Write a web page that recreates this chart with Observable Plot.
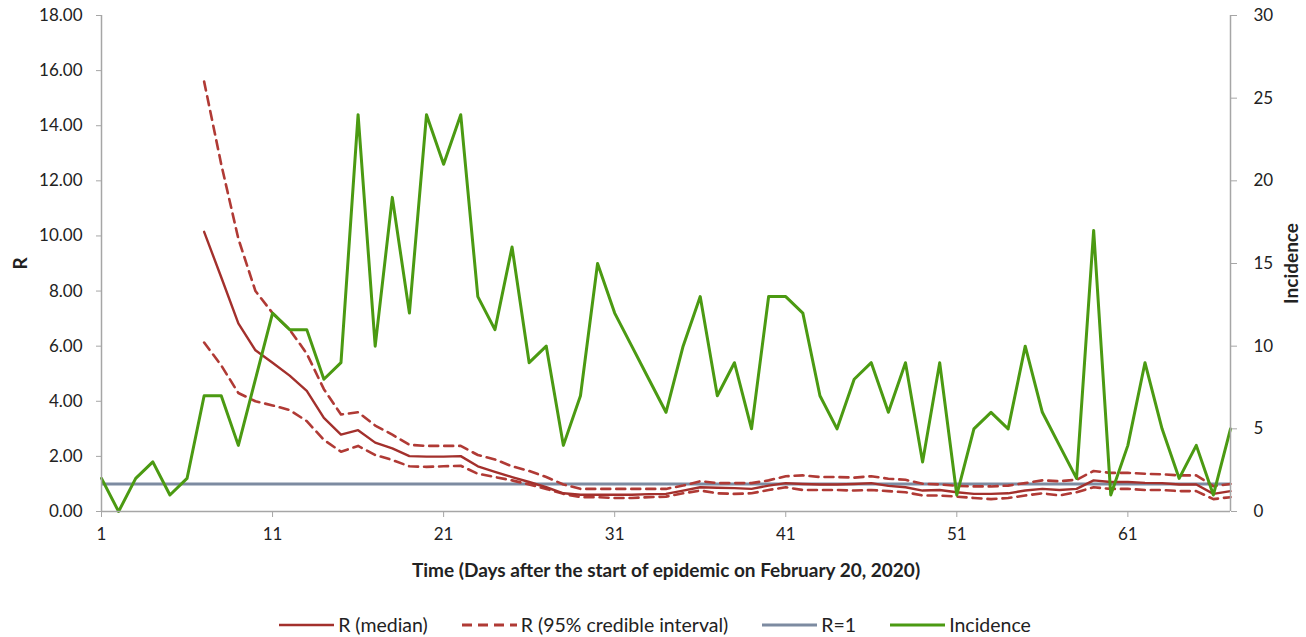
<!DOCTYPE html>
<html>
<head>
<meta charset="utf-8">
<script src="https://cdn.jsdelivr.net/npm/d3@7"></script>
<script src="https://cdn.jsdelivr.net/npm/@observablehq/plot@0.6"></script>
<style>
  html, body { margin: 0; padding: 0; background: #fff; }
  #chart { width: 1306px; height: 600px; }
  #legend { position: relative; display: flex; justify-content: center; align-items: center; gap: 34px;
            font-family: Lato, "Open Sans", sans-serif; font-size: 19.5px; color: #222;
            margin-top: 14px; line-height: 22px; left: 2px; }
  .item { display: flex; align-items: center; gap: 4px; }
</style>
</head>
<body>
<div id="chart"></div>
<div id="legend"></div>
<script>
// ---- data ----
const days = [1,2,3,4,5,6,7,8,9,10,11,12,13,14,15,16,17,18,19,20,21,22,23,24,25,26,27,28,29,30,31,32,33,34,35,36,37,38,39,40,41,42,43,44,45,46,47,48,49,50,51,52,53,54,55,56,57,58,59,60,61,62,63,64,65,66,67];
const incidence = [2,0,2,3,1,2,7,7,4,8,12,11,11,8,9,24,10,19,12,24,21,24,13,11,16,9,10,4,7,15,12,10,8,6,10,13,7,9,5,13,13,12,7,5,8,9,6,9,3,9,1,5,6,5,10,6,4,2,17,1,4,9,5,2,4,1,5];
const rDays = [7,8,9,10,11,12,13,14,15,16,17,18,19,20,21,22,23,24,25,26,27,28,29,30,31,32,33,34,35,36,37,38,39,40,41,42,43,44,45,46,47,48,49,50,51,52,53,54,55,56,57,58,59,60,61,62,63,64,65,66,67];
const rMedian = [10.15,8.5,6.83,5.85,5.4,4.93,4.38,3.40,2.79,2.95,2.50,2.29,2.01,1.99,1.99,2.01,1.64,1.44,1.25,1.07,0.88,0.66,0.61,0.61,0.61,0.61,0.63,0.64,0.76,0.88,0.86,0.85,0.82,0.94,1.03,1.00,0.98,0.98,1.00,1.03,0.93,0.88,0.76,0.78,0.70,0.64,0.64,0.66,0.76,0.82,0.78,0.82,1.13,1.07,1.07,1.04,1.03,0.98,0.98,0.64,0.74];
const rUpper = [15.6,12.6,9.9,8.0,7.2,6.6,5.73,4.44,3.52,3.6,3.12,2.79,2.42,2.38,2.38,2.38,2.05,1.89,1.64,1.47,1.25,0.98,0.82,0.82,0.82,0.82,0.82,0.82,0.94,1.10,1.03,1.03,1.03,1.13,1.28,1.31,1.25,1.25,1.23,1.28,1.19,1.15,1.01,0.98,0.93,0.91,0.91,0.94,1.03,1.13,1.10,1.15,1.47,1.40,1.40,1.37,1.35,1.31,1.31,0.92,1.00];
const rLower = [6.13,5.3,4.3,4.0,3.85,3.68,3.28,2.6,2.17,2.38,2.05,1.87,1.64,1.62,1.64,1.66,1.37,1.25,1.13,0.98,0.82,0.64,0.52,0.52,0.49,0.49,0.52,0.54,0.66,0.76,0.66,0.64,0.66,0.78,0.88,0.78,0.78,0.78,0.76,0.78,0.74,0.70,0.58,0.58,0.54,0.49,0.45,0.49,0.58,0.66,0.58,0.70,0.88,0.82,0.82,0.78,0.78,0.74,0.74,0.45,0.52];
const xTicks = [1,11,21,31,41,51,61];
const rTicks = [0,2,4,6,8,10,12,14,16,18];
const incTicks = [0,5,10,15,20,25,30];
const rMax = 18, incMax = 30;
const seriesNames = ["R (median)", "R (95% credible interval)", "R=1", "Incidence"];

// ---- styles ----
const RED = "#a3302c", RED_D = "#b03a35", GRAY = "#7d8ba1", GREEN = "#4b9a12", AXIS = "#a6a6a6";
const k = rMax / incMax;

const incRows = days.map((d, i) => ({day: d, inc: incidence[i]}));
const rRows = rDays.map((d, i) => ({day: d, med: rMedian[i], lo: rLower[i], hi: rUpper[i]}));

const chart = Plot.plot({
  width: 1306, height: 600,
  marginTop: 15, marginBottom: 89, marginLeft: 101, marginRight: 76,
  style: {fontFamily: "Lato, 'Open Sans', sans-serif", fontSize: "17px", color: "#222", background: "#fff"},
  x: {domain: [1, 67]},
  y: {domain: [0, rMax]},
  marks: [
    Plot.ruleY([1], {stroke: GRAY, strokeWidth: 3}),
    Plot.lineY(rRows, {x: "day", y: "hi", stroke: RED_D, strokeWidth: 2.6, strokeDasharray: "9,6"}),
    Plot.lineY(rRows, {x: "day", y: "lo", stroke: RED_D, strokeWidth: 2.6, strokeDasharray: "9,6"}),
    Plot.lineY(rRows, {x: "day", y: "med", stroke: RED, strokeWidth: 2.4}),
    Plot.lineY(incRows, {x: "day", y: d => d.inc * k, stroke: GREEN, strokeWidth: 3}),
    Plot.ruleX([1], {stroke: AXIS, strokeWidth: 1.5}),
    Plot.ruleX([67], {stroke: AXIS, strokeWidth: 1.5}),
    Plot.ruleY([0], {stroke: AXIS, strokeWidth: 1.5}),
    Plot.axisX({ticks: xTicks, tickFormat: d => String(d), tickSize: 6, tickPadding: 10, stroke: AXIS,
      label: "Time (Days after the start of epidemic on February 20, 2020)", labelAnchor: "center", labelOffset: 65, labelArrow: "none"}),
    Plot.axisY({anchor: "left", ticks: rTicks, tickFormat: d3.format(".2f"), tickSize: 5, tickPadding: 14, stroke: AXIS,
      label: "R", labelAnchor: "center", labelOffset: 88, labelArrow: "none"}),
    Plot.axisY({anchor: "right", ticks: incTicks.map(v => v * k), tickFormat: d => String(Math.round(d / k)), tickSize: 6, tickPadding: 17, stroke: AXIS,
      label: "Incidence", labelAnchor: "center", labelOffset: 67, labelArrow: "none"})
  ]
});
d3.select(chart).selectAll('g[aria-label$="axis label"] text').attr("font-weight", "bold").attr("font-size", "19px");
document.getElementById("chart").appendChild(chart);

// ---- legend ----
const swatches = [
  {name: seriesNames[0], color: RED, dash: null, w: 2.4},
  {name: seriesNames[1], color: RED_D, dash: "10,6", w: 2.8},
  {name: seriesNames[2], color: GRAY, dash: null, w: 3},
  {name: seriesNames[3], color: GREEN, dash: null, w: 3}
];
const legend = d3.select("#legend");
swatches.forEach(s => {
  const it = legend.append("div").attr("class", "item");
  const sv = it.append("svg").attr("width", 55).attr("height", 10);
  sv.append("line").attr("x1", 0).attr("x2", 55).attr("y1", 5).attr("y2", 5)
    .attr("stroke", s.color).attr("stroke-width", s.w).attr("stroke-dasharray", s.dash);
  it.append("span").text(s.name);
});
</script>
</body>
</html>
